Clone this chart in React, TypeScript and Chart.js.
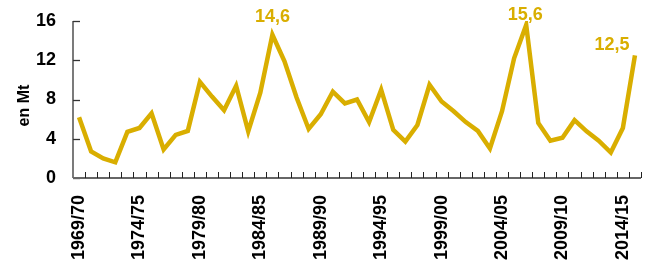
import React, { useEffect, useRef } from "react";
import { Chart, registerables } from "chart.js";

Chart.register(...registerables);

const categories = [
  "1969/70", "1970/71", "1971/72", "1972/73", "1973/74", "1974/75", "1975/76", "1976/77", "1977/78", "1978/79",
  "1979/80", "1980/81", "1981/82", "1982/83", "1983/84", "1984/85", "1985/86", "1986/87", "1987/88", "1988/89",
  "1989/90", "1990/91", "1991/92", "1992/93", "1993/94", "1994/95", "1995/96", "1996/97", "1997/98", "1998/99",
  "1999/00", "2000/01", "2001/02", "2002/03", "2003/04", "2004/05", "2005/06", "2006/07", "2007/08", "2008/09",
  "2009/10", "2010/11", "2011/12", "2012/13", "2013/14", "2014/15", "2015/16",
];

const values = [
  6.2, 2.7, 2.0, 1.6, 4.7, 5.1, 6.6, 2.9, 4.4, 4.8,
  9.8, 8.3, 6.9, 9.4, 4.75, 8.7, 14.6, 11.9, 8.2, 5.0,
  6.5, 8.8, 7.6, 8.0, 5.7, 9.0, 4.9, 3.7, 5.4, 9.5,
  7.8, 6.8, 5.7, 4.8, 3.0, 6.8, 12.2, 15.6, 5.6, 3.8,
  4.1, 5.9, 4.75, 3.8, 2.6, 5.1, 12.5,
];

const labelledIndices = [16, 37, 46];
const labelOffsets = [
  [0, -18],
  [-1, -10],
  [-23, -10],
];

const yTicks = [0, 4, 8, 12, 16];
const yTitle = "en Mt";

const LINE = "#D9AE00";
const FONT = "'Liberation Sans', Arial, sans-serif";

const decorPlugin = {
  id: "decor",
  afterDraw(chart: any) {
    const ctx = chart.ctx;
    const { left, right, top, bottom } = chart.chartArea;
    const y = chart.scales.y;
    ctx.save();
    ctx.strokeStyle = "#333";
    ctx.lineWidth = 1.3;
    ctx.beginPath();
    ctx.moveTo(left, y.getPixelForValue(16));
    ctx.lineTo(left, bottom);
    ctx.stroke();
    yTicks.forEach((v) => {
      const py = Math.round(y.getPixelForValue(v)) + 0.5;
      ctx.beginPath();
      ctx.moveTo(left, py);
      ctx.lineTo(left + 7, py);
      ctx.stroke();
    });
    ctx.strokeStyle = "#666";
    ctx.lineWidth = 2;
    ctx.beginPath();
    ctx.moveTo(left, bottom);
    ctx.lineTo(right, bottom);
    ctx.stroke();
    ctx.strokeStyle = "#222";
    ctx.lineWidth = 1;
    const n = categories.length;
    const w = (right - left) / n;
    for (let i = 1; i <= n; i++) {
      const px = Math.round(left + i * w) + 0.5;
      ctx.beginPath();
      ctx.moveTo(px, bottom);
      ctx.lineTo(px, bottom - 6);
      ctx.stroke();
    }
    ctx.fillStyle = "#000";
    ctx.font = `bold 16px ${FONT}`;
    ctx.textAlign = "center";
    ctx.textBaseline = "middle";
    ctx.translate(25, (top + bottom) / 2 + 6);
    ctx.rotate(-Math.PI / 2);
    ctx.fillText(yTitle, 0, 0);
    ctx.restore();

    const meta = chart.getDatasetMeta(0);
    ctx.save();
    ctx.fillStyle = LINE;
    ctx.font = `bold 18px ${FONT}`;
    ctx.textAlign = "center";
    ctx.textBaseline = "middle";
    labelledIndices.forEach((idx, k) => {
      const pt = meta.data[idx];
      const txt = String(values[idx]).replace(".", ",");
      ctx.fillText(txt, pt.x + labelOffsets[k][0], pt.y + labelOffsets[k][1]);
    });
    ctx.restore();
  },
};

export default function App() {
  const ref = useRef<HTMLCanvasElement | null>(null);
  useEffect(() => {
    if (!ref.current) return;
    const chart = new Chart(ref.current, {
      type: "line",
      data: {
        labels: categories,
        datasets: [
          {
            data: values,
            borderColor: LINE,
            borderWidth: 4.5,
            borderJoinStyle: "miter",
            pointRadius: 0,
            tension: 0,
            fill: false,
          },
        ],
      },
      options: {
        animation: false,
        responsive: false,
        layout: { padding: { left: 0, top: 21, right: 5, bottom: 0 } },
        plugins: { legend: { display: false }, tooltip: { enabled: false } },
        scales: {
          x: {
            type: "category",
            offset: true,
            grid: { display: false, drawTicks: false },
            border: { display: false },
            afterFit: (s: any) => {
              s.height = 82;
              s.paddingLeft = 0;
              s.paddingRight = 0;
            },
            ticks: {
              autoSkip: false,
              minRotation: 90,
              maxRotation: 90,
              padding: 17,
              color: "#000",
              font: { family: FONT, size: 18, weight: "bold" },
              callback: (_v: any, i: number) => (i % 5 === 0 ? categories[i] : ""),
            },
          },
          y: {
            min: 0,
            max: 16,
            grid: { display: false, drawTicks: false },
            border: { display: false },
            afterFit: (s: any) => {
              s.width = 73;
              s.paddingTop = 0;
              s.paddingBottom = 0;
            },
            ticks: {
              stepSize: 4,
              padding: 17,
              color: "#000",
              font: { family: FONT, size: 18, weight: "bold" },
            },
          },
        },
      },
      plugins: [decorPlugin],
    });
    return () => chart.destroy();
  }, []);
  return (
    <div style={{ position: "fixed", left: 0, top: 0, width: 646, height: 260, background: "#fff" }}>
      <canvas ref={ref} width={646} height={260} />
    </div>
  );
}
